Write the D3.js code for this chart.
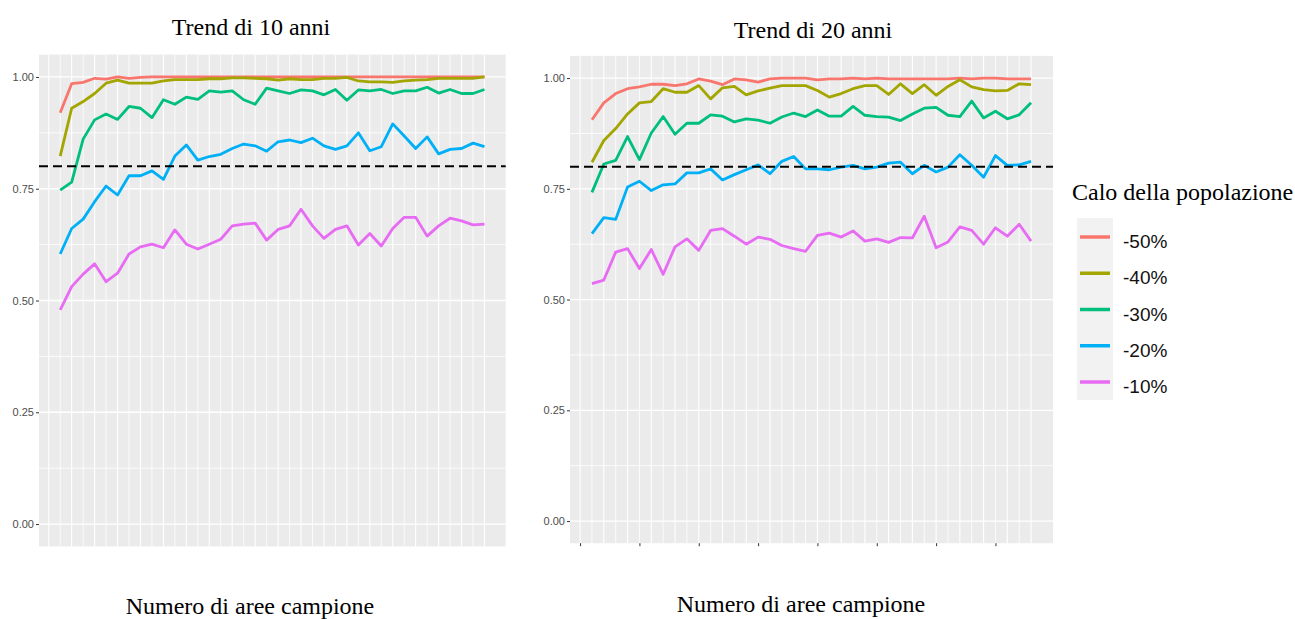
<!DOCTYPE html>
<html><head><meta charset="utf-8">
<script src="https://cdn.jsdelivr.net/npm/d3@7"></script>
<style>
html,body{margin:0;padding:0;background:#fff;}
svg{display:block;}
</style></head>
<body>
<svg id="chart" width="1295" height="619"></svg>
<script>
// ---- data ----
const sampleSizes = [1,2,3,4,5,6,7,8,9,10,11,12,13,14,15,16,17,18,19,20,21,22,23,24,25,26,27,28,29,30,31,32,33,34,35,36,37,38];
const seriesNames = ["-50%","-40%","-30%","-20%","-10%"];
const seriesColors = ["#F8766D","#A3A500","#00BF7D","#00B0F6","#E76BF3"];
const yTicks = [0, 0.25, 0.5, 0.75, 1];
const yTickLabels = ["0.00","0.25","0.50","0.75","1.00"];
const threshold = 0.8;
const panelTitles = ["Trend di 10 anni","Trend di 20 anni"];
const xTitle = "Numero di aree campione";
const legendTitle = "Calo della popolazione";

// Trend di 10 anni
const t10_50 = [0.92,0.985,0.988,0.997,0.995,1.0,0.997,0.999,1.0,1.0,1.0,1.0,1.0,1.0,1.0,1.0,1.0,1.0,1.0,1.0,1.0,1.0,1.0,1.0,1.0,1.0,1.0,1.0,1.0,1.0,1.0,1.0,1.0,1.0,1.0,1.0,1.0,1.0];
const t10_40 = [0.823,0.930,0.945,0.963,0.986,0.993,0.986,0.986,0.986,0.991,0.994,0.994,0.994,0.996,0.996,0.998,0.998,0.997,0.996,0.993,0.996,0.994,0.994,0.997,0.997,0.999,0.991,0.989,0.989,0.988,0.991,0.993,0.994,0.997,0.997,0.997,0.997,1.0];
const t10_30 = [0.747,0.765,0.861,0.904,0.917,0.905,0.934,0.930,0.909,0.949,0.939,0.955,0.950,0.969,0.966,0.969,0.949,0.939,0.975,0.969,0.963,0.971,0.969,0.960,0.972,0.948,0.971,0.969,0.972,0.963,0.969,0.969,0.977,0.964,0.972,0.963,0.963,0.972];
const t10_20 = [0.604,0.661,0.682,0.721,0.756,0.736,0.779,0.779,0.790,0.771,0.823,0.848,0.814,0.822,0.827,0.840,0.850,0.846,0.834,0.855,0.859,0.853,0.863,0.846,0.838,0.846,0.875,0.835,0.844,0.895,0.868,0.840,0.866,0.828,0.838,0.840,0.852,0.844];
const t10_10 = [0.479,0.531,0.559,0.582,0.542,0.561,0.604,0.620,0.626,0.618,0.658,0.626,0.615,0.626,0.637,0.667,0.671,0.673,0.635,0.659,0.667,0.704,0.667,0.639,0.659,0.667,0.624,0.650,0.622,0.661,0.686,0.686,0.644,0.667,0.684,0.678,0.669,0.671];

// Trend di 20 anni
const t20_50 = [0.906,0.944,0.965,0.976,0.980,0.986,0.986,0.983,0.987,0.998,0.993,0.985,0.998,0.996,0.991,0.998,1.0,1.0,1.0,0.996,0.998,0.998,1.0,0.998,1.0,0.998,0.998,0.998,0.998,0.998,0.998,1.0,0.998,1.0,1.0,0.998,0.998,0.998];
const t20_40 = [0.810,0.859,0.886,0.919,0.944,0.947,0.976,0.968,0.968,0.983,0.953,0.978,0.981,0.962,0.971,0.977,0.983,0.983,0.983,0.972,0.957,0.965,0.976,0.983,0.983,0.963,0.987,0.965,0.985,0.961,0.981,0.996,0.980,0.974,0.971,0.972,0.987,0.985];
const t20_30 = [0.742,0.806,0.814,0.868,0.816,0.876,0.913,0.873,0.898,0.898,0.917,0.914,0.901,0.908,0.905,0.898,0.912,0.921,0.913,0.928,0.914,0.914,0.936,0.916,0.913,0.912,0.904,0.919,0.932,0.934,0.916,0.913,0.948,0.910,0.925,0.908,0.917,0.944];
const t20_20 = [0.649,0.685,0.681,0.754,0.767,0.746,0.759,0.761,0.786,0.786,0.795,0.770,0.782,0.793,0.804,0.784,0.812,0.823,0.795,0.795,0.793,0.799,0.803,0.795,0.799,0.808,0.810,0.784,0.803,0.788,0.799,0.827,0.803,0.776,0.825,0.803,0.804,0.812];
const t20_10 = [0.536,0.544,0.607,0.615,0.570,0.613,0.557,0.619,0.637,0.611,0.656,0.660,0.643,0.625,0.641,0.636,0.622,0.615,0.609,0.645,0.650,0.641,0.655,0.632,0.637,0.629,0.640,0.639,0.688,0.617,0.630,0.664,0.656,0.625,0.662,0.643,0.670,0.632];

const panels = [
  {title: panelTitles[0], series: [t10_50,t10_40,t10_30,t10_20,t10_10],
   box:{x0:39,x1:505.7,y0:54.6,y1:546.4}, xTicks:false,
   titlePos:{x:251,y:35}, xTitlePos:{x:250,y:614}},
  {title: panelTitles[1], series: [t20_50,t20_40,t20_30,t20_20,t20_10],
   box:{x0:570,x1:1053,y0:55.9,y1:543.2}, xTicks:true,
   titlePos:{x:813,y:38}, xTitlePos:{x:801,y:612}}
];

const svg = d3.select("#chart");
const serif = "'Liberation Serif','Times New Roman',serif";
const sans = "'Liberation Sans',Arial,sans-serif";

const xMin = d3.min(sampleSizes), xMax = d3.max(sampleSizes);
const xPad = (xMax - xMin) * 0.05;

panels.forEach(p => {
  const b = p.box;
  const x = d3.scaleLinear().domain([xMin - xPad, xMax + xPad]).range([b.x0, b.x1]);
  const y = d3.scaleLinear().domain([-0.05, 1.05]).range([b.y1, b.y0]);
  const g = svg.append("g");

  g.append("rect").attr("x", b.x0).attr("y", b.y0)
    .attr("width", b.x1 - b.x0).attr("height", b.y1 - b.y0).attr("fill", "#EBEBEB");

  const minorY = [0.125, 0.375, 0.625, 0.875];
  g.selectAll(".hmin").data(minorY).enter().append("line")
    .attr("x1", b.x0).attr("x2", b.x1)
    .attr("y1", d => y(d)).attr("y2", d => y(d))
    .attr("stroke", "#fff").attr("stroke-width", 0.8);
  const vGrid = [xMin - 1].concat(sampleSizes);
  g.selectAll(".vg").data(vGrid).enter().append("line")
    .attr("x1", d => x(d)).attr("x2", d => x(d))
    .attr("y1", b.y0).attr("y2", b.y1)
    .attr("stroke", "#fff").attr("stroke-width", (d,i) => i % 2 === 0 ? 1.1 : 0.8);
  g.selectAll(".hmaj").data(yTicks).enter().append("line")
    .attr("x1", b.x0).attr("x2", b.x1)
    .attr("y1", d => y(d)).attr("y2", d => y(d))
    .attr("stroke", "#fff").attr("stroke-width", 1.3);

  const yAxis = d3.axisLeft(y).tickValues(yTicks)
    .tickFormat((d,i) => yTickLabels[i]).tickSize(3).tickPadding(2);
  const ya = g.append("g").attr("transform", `translate(${b.x0},0)`).call(yAxis);
  ya.select(".domain").remove();
  ya.selectAll("line").attr("stroke", "#333").attr("stroke-width", 1);
  ya.selectAll("text").attr("fill", "#4D4D4D").style("font-family", sans).style("font-size", "11px");

  if (p.xTicks) {
    const xt = [0,5,10,15,20,25,30,35];
    const xAxis = d3.axisBottom(x).tickValues(xt).tickFormat("").tickSize(3);
    const xa = g.append("g").attr("transform", `translate(0,${b.y1})`).call(xAxis);
    xa.select(".domain").remove();
    xa.selectAll("line").attr("stroke", "#333").attr("stroke-width", 1);
  }

  const line = d3.line().x((d,i) => x(sampleSizes[i])).y(d => y(d));
  p.series.forEach((s, k) => {
    g.append("path").datum(s).attr("d", line)
      .attr("fill", "none").attr("stroke", seriesColors[k])
      .attr("stroke-width", 2.8).attr("stroke-linejoin", "round").attr("stroke-linecap", "butt");
  });

  g.append("line").attr("x1", b.x0).attr("x2", b.x1)
    .attr("y1", y(threshold)).attr("y2", y(threshold))
    .attr("stroke", "#000").attr("stroke-width", 2).attr("stroke-dasharray", "9,5");

  svg.append("text").attr("x", p.titlePos.x).attr("y", p.titlePos.y)
    .attr("text-anchor", "middle").style("font-family", serif).style("font-size", "24px")
    .attr("fill", "#000").text(p.title);
  svg.append("text").attr("x", p.xTitlePos.x).attr("y", p.xTitlePos.y)
    .attr("text-anchor", "middle").style("font-family", serif).style("font-size", "24px")
    .attr("fill", "#000").text(xTitle);
});

const lg = svg.append("g");
lg.append("text").attr("x", 1072).attr("y", 200)
  .style("font-family", serif).style("font-size", "24px").attr("fill", "#000").text(legendTitle);
lg.append("rect").attr("x", 1077).attr("y", 218).attr("width", 36).attr("height", 182).attr("fill", "#F2F2F2");
const keyY = d3.scalePoint().domain(seriesNames).range([237, 382]);
seriesNames.forEach((n, k) => {
  lg.append("line").attr("x1", 1080).attr("x2", 1110)
    .attr("y1", keyY(n)).attr("y2", keyY(n))
    .attr("stroke", seriesColors[k]).attr("stroke-width", 3.5);
  lg.append("text").attr("x", 1123).attr("y", keyY(n) + 11)
    .style("font-family", sans).style("font-size", "19px").attr("fill", "#111").text(n);
});
</script>
</body></html>
